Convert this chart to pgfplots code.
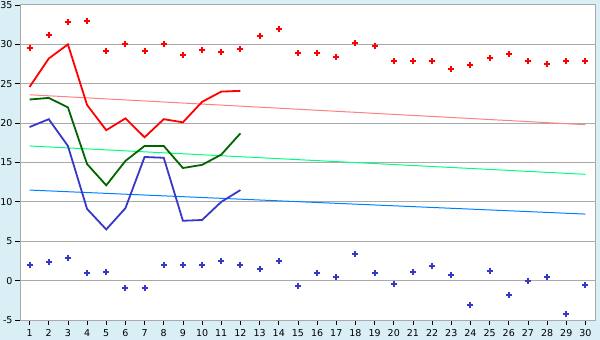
\documentclass[border=0pt]{standalone}
\usepackage{pgfplots}
\pgfplotsset{compat=1.18}
\usepackage{fontspec}
\setmainfont{DejaVu Sans}
\definecolor{bgblue}{HTML}{DAEEF5}
\definecolor{gridgray}{HTML}{AAAAAA}
\definecolor{dgreen}{HTML}{006600}
\definecolor{mblue}{HTML}{3838C8}
\definecolor{tpink}{HTML}{FF8080}
\definecolor{tgreen}{HTML}{00FF80}
\definecolor{tblue}{HTML}{0080FF}
\begin{document}
\begin{tikzpicture}
\fill[bgblue] (0,0) rectangle (600bp,340bp);
\useasboundingbox (0,0) rectangle (600bp,340bp);
\begin{axis}[
  at={(20bp,20bp)}, anchor=south west,
  scale only axis, width=575bp, height=315bp,
  xmin=0.5, xmax=30.5, ymin=-5, ymax=35,
  xtick={1,...,30}, ytick={-5,0,...,35},
  axis background/.style={fill=white},
  axis line style={gridgray, line width=1bp},
  ymajorgrids, major grid style={gridgray, line width=1bp},
  tick align=outside, major tick length=5bp,
  tick style={black, line width=0.8bp},
  xtick pos=bottom, ytick pos=left,
  tick label style={font=\fontsize{9.5bp}{11bp}\selectfont},
  /pgf/number format/assume math mode=true,
  xticklabel style={yshift=-1bp},
  yticklabel style={xshift=1bp},
  clip=false,
]
% trend lines
\addplot[tpink, line width=1bp] coordinates {(1,23.6) (30,19.8)};
\addplot[tgreen, line width=1bp] coordinates {(1,17.1) (30,13.5)};
\addplot[tblue, line width=1bp] coordinates {(1,11.5) (30,8.45)};
% max markers
\addplot[only marks, red, mark=+, mark size=3bp, mark options={line width=2bp, line cap=butt}] coordinates {
(1,29.6) (2,31.2) (3,32.8) (4,33.0) (5,29.1) (6,30.0) (7,29.1) (8,30.0) (9,28.7) (10,29.3)
(11,29.0) (12,29.4) (13,31.1) (14,32.0) (15,28.9) (16,28.9) (17,28.4) (18,30.2) (19,29.8) (20,27.9)
(21,27.9) (22,27.9) (23,26.9) (24,27.4) (25,28.3) (26,28.8) (27,27.9) (28,27.5) (29,27.9) (30,27.9)};
% min markers
\addplot[only marks, mblue, mark=+, mark size=3bp, mark options={line width=2bp, line cap=butt}] coordinates {
(1,2.0) (2,2.4) (3,2.9) (4,1.0) (5,1.1) (6,-1.0) (7,-1.0) (8,2.0) (9,2.0) (10,2.0)
(11,2.5) (12,2.0) (13,1.5) (14,2.5) (15,-0.7) (16,1.0) (17,0.5) (18,3.4) (19,1.0) (20,-0.4)
(21,1.1) (22,1.9) (23,0.7) (24,-3.1) (25,1.2) (26,-1.8) (27,0.0) (28,0.5) (29,-4.2) (30,-0.55)};
% data lines
\addplot[red, line width=1.8bp] coordinates {
(1,24.6) (2,28.2) (3,30.0) (4,22.3) (5,19.1) (6,20.6) (7,18.2) (8,20.5) (9,20.1) (10,22.7) (11,24.0) (12,24.1)};
\addplot[dgreen, line width=1.8bp] coordinates {
(1,23.0) (2,23.2) (3,22.0) (4,14.8) (5,12.1) (6,15.2) (7,17.1) (8,17.1) (9,14.3) (10,14.7) (11,16.0) (12,18.7)};
\addplot[mblue, line width=1.8bp] coordinates {
(1,19.5) (2,20.5) (3,17.1) (4,9.1) (5,6.5) (6,9.2) (7,15.7) (8,15.6) (9,7.6) (10,7.7) (11,10.0) (12,11.5)};
\end{axis}
\end{tikzpicture}
\end{document}
